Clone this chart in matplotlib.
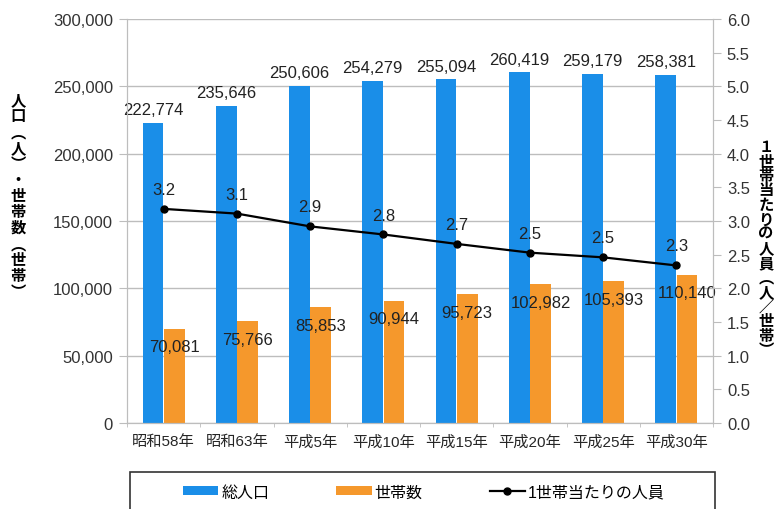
import numpy as np
import matplotlib.pyplot as plt
import matplotlib.ticker as ticker
from matplotlib.patches import Rectangle

plt.rcParams['font.family'] = ['Liberation Sans', 'Noto Sans CJK JP']

# データ
years = ["昭和58年", "昭和63年", "平成5年", "平成10年", "平成15年", "平成20年", "平成25年", "平成30年"]
population = [222774, 235646, 250606, 254279, 255094, 260419, 259179, 258381]
households = [70081, 75766, 85853, 90944, 95723, 102982, 105393, 110140]
per_household = [3.18, 3.11, 2.92, 2.80, 2.66, 2.53, 2.46, 2.34]

blue = '#1a8ee8'
orange = '#f5982c'
grey = '#bdbdbd'

W, H = 777, 510
fig = plt.figure(figsize=(W / 100, H / 100), dpi=100)
ax = fig.add_axes([127 / W, 1 - 424 / H, 586 / W, 404 / H])
ax2 = ax.twinx()

x = np.arange(len(years))
b1 = ax.bar(x - 0.145, population, 0.28, color=blue, zorder=2)
b2 = ax.bar(x + 0.145, households, 0.28, color=orange, zorder=2)
ln, = ax2.plot(x, per_household, color='black', marker='o', markersize=5, linewidth=1.6)

ax.set_xlim(-0.5, len(years) - 0.5)
ax.set_ylim(0, 300000)
ax2.set_ylim(0, 6)
ax.set_yticks(np.arange(0, 300001, 50000))
ax2.set_yticks(np.arange(0, 6.01, 0.5))
ax.yaxis.set_major_formatter(ticker.StrMethodFormatter('{x:,.0f}'))
ax2.yaxis.set_major_formatter(ticker.StrMethodFormatter('{x:.1f}'))

ax.set_xticks(x)
ax.set_xticklabels(years, fontsize=11, color='#262626')
ax.set_xticks(np.arange(-0.5, len(years)), minor=True)
ax.tick_params(axis='x', which='major', length=0, pad=8)
ax.tick_params(axis='x', which='minor', length=3, color=grey)
ax.tick_params(axis='y', length=6, color=grey, labelsize=12, labelcolor='#333333', pad=4)
ax2.tick_params(axis='y', length=6, color=grey, labelsize=12, labelcolor='#333333', pad=4)

ax.yaxis.grid(True, color=grey, linewidth=1)
ax.set_axisbelow(True)
for a in (ax, ax2):
    a.spines['top'].set_visible(False)
    for s in ('left', 'right', 'bottom'):
        a.spines[s].set_color(grey)

# ラベル
for xi, v in zip(x, population):
    ax.annotate(f'{v:,}', (xi - 0.145, v), xytext=(0, 4), textcoords='offset points',
                ha='center', va='bottom', fontsize=12, color='#222222')
for xi, v in zip(x, households):
    ax.annotate(f'{v:,}', (xi + 0.145, v), xytext=(0, -13), textcoords='offset points',
                ha='center', va='center', fontsize=12, color='#222222', zorder=3)
for xi, v in zip(x, per_household):
    ax2.annotate(f'{v:.1f}', (xi, v), xytext=(0, 14), textcoords='offset points',
                 ha='center', va='center', fontsize=12, color='#222222')

# 縦書きの軸ラベル
left_label = "人口︵人︶・世帯数︵世帯︶"
for i, ch in enumerate(left_label):
    fig.text(18 / W, 1 - (100 + 16 * i) / H, ch, ha='center', va='center', fontsize=11,
             fontweight='bold', family=['Noto Sans CJK JP'])
right_label = "１世帯当たりの人員︵人／世帯︶"
for i, ch in enumerate(right_label):
    fig.text(766 / W, 1 - (147 + 14.5 * i) / H, ch, ha='center', va='center', fontsize=11,
             fontweight='bold', family=['Noto Sans CJK JP'])

# 凡例
fig.legend([b1, b2, ln], ["総人口", "世帯数", "1世帯当たりの人員"], loc='center',
           bbox_to_anchor=(424 / W, 1 - 493 / H), ncol=3, frameon=False, fontsize=11.5,
           handlelength=2.2, handleheight=0.5, handletextpad=0.2, columnspacing=4.2)
fig.patches.append(Rectangle((130 / W, -0.05), 585 / W, 1 - 473 / H + 0.05,
                             transform=fig.transFigure, fill=False, edgecolor='#333333',
                             linewidth=1.2))

fig.savefig('out.png', dpi=100)
